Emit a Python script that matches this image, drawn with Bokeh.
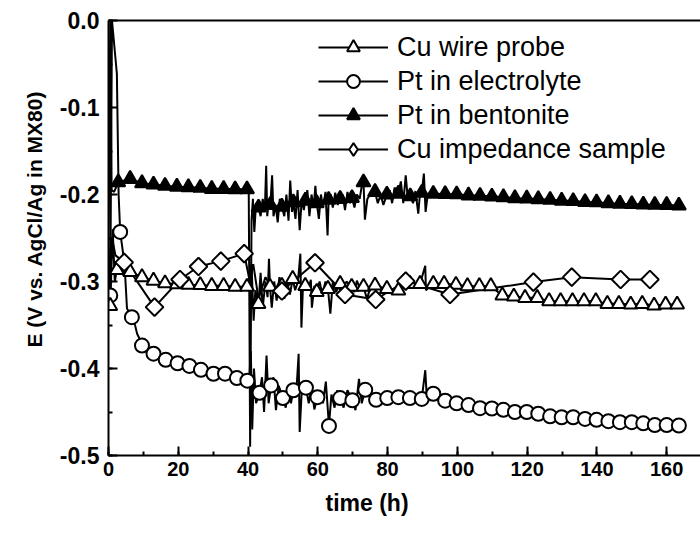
import math
from bokeh.plotting import figure
from bokeh.models import (Range1d, SingleIntervalTicker, FixedTicker, LinearAxis,
                          NumeralTickFormatter, Legend, LegendItem, Title)
from bokeh.embed import file_html
from bokeh.resources import INLINE

# ---------------- data ----------------
# Cu wire probe (open triangles)
cu_t = [0.5, 2.4, 6.2, 9.6, 12.9, 16.2, 19.6, 22.9, 26.3, 29.6, 33.0, 36.3, 39.7,
        43.0, 46.3, 49.7, 52.8, 56.4, 59.7, 62.9, 66.4, 69.7, 73.1, 76.4, 79.8,
        83.1, 86.4, 89.3, 93.1, 96.2, 99.6, 102.9, 106.3, 109.6, 112.9, 116.2,
        119.4, 122.9, 126.3, 129.6, 133.0, 136.3, 139.7, 143.0, 146.3, 149.7,
        153.0, 156.4, 159.7, 163.0]
cu_e = [-0.328, -0.2866, -0.289, -0.295, -0.299, -0.302, -0.303, -0.3038, -0.304,
        -0.305, -0.305, -0.306, -0.306, -0.3257, -0.306, -0.305, -0.297, -0.305,
        -0.312, -0.3085, -0.3027, -0.306, -0.306, -0.3046, -0.3085, -0.3103,
        -0.3027, -0.3027, -0.3027, -0.3027, -0.3038, -0.3054, -0.3054, -0.3054,
        -0.316, -0.3172, -0.3188, -0.3188, -0.3226, -0.3226, -0.3226, -0.3226,
        -0.3226, -0.3257, -0.3257, -0.3264, -0.3257, -0.3276, -0.3264, -0.3264]
cu_noise_t = [0.0, 1.2, 1.8, 40.3, 41.0, 41.6, 42.1, 43.6, 44.2, 45.0, 45.6, 46.0,
              46.8, 47.5, 48.2, 49.0, 50.4, 51.2, 52.0, 53.5, 54.3, 55.0, 55.3,
              55.8, 57.2, 58.0, 58.3, 59.0, 60.5, 61.3, 62.2, 63.6, 64.3, 65.2,
              67.2, 68.2, 70.5, 71.2, 72.2, 74.1, 75.2, 90.8, 91.0]
cu_noise_e = [-0.26, -0.24, -0.3, -0.306, -0.28, -0.345, -0.31, -0.29, -0.33, -0.3,
              -0.318, -0.274, -0.33, -0.3, -0.322, -0.295, -0.32, -0.3, -0.315,
              -0.31, -0.3, -0.268, -0.353, -0.3, -0.31, -0.298, -0.33, -0.305,
              -0.3, -0.315, -0.3, -0.337, -0.3, -0.312, -0.31, -0.3, -0.312,
              -0.299, -0.31, -0.32, -0.305, -0.282, -0.31]

# Pt in electrolyte (open circles)
el_t = [0.5, 3.35, 6.7, 9.6, 12.9, 16.4, 19.8, 23.2, 26.5, 30.1, 33.4, 36.8, 39.8,
        43.3, 46.6, 50.0, 53.0, 56.6, 59.9, 63.2, 66.4, 69.9, 73.6, 76.7, 79.9,
        83.1, 86.4, 89.8, 93.1, 96.5, 99.8, 103.2, 106.5, 109.9, 113.2, 116.5,
        119.9, 123.2, 126.6, 129.9, 133.2, 136.6, 139.9, 143.3, 146.6, 150.0,
        153.3, 156.6, 160.0, 163.5]
el_e = [-0.316, -0.243, -0.341, -0.3736, -0.383, -0.390, -0.394, -0.397, -0.4015,
        -0.406, -0.406, -0.411, -0.414, -0.428, -0.4195, -0.434, -0.425, -0.422,
        -0.433, -0.466, -0.434, -0.4365, -0.4245, -0.436, -0.434, -0.433, -0.434,
        -0.435, -0.429, -0.437, -0.44, -0.442, -0.4456, -0.446, -0.4475, -0.450,
        -0.450, -0.452, -0.455, -0.456, -0.456, -0.458, -0.459, -0.4605, -0.4617,
        -0.4617, -0.463, -0.465, -0.465, -0.4655]
el_noise_t = [1.0, 2.4, 2.9, 4.6, 5.3, 7.6, 8.2, 8.8, 40.3, 40.8, 41.2, 41.7, 42.3,
              44.0, 44.6, 45.3, 45.9, 47.3, 48.0, 48.8, 50.8, 51.6, 52.3, 53.8,
              54.5, 54.8, 55.4, 57.4, 58.2, 59.0, 60.7, 61.5, 62.3, 63.9, 64.8,
              65.6, 67.4, 68.5, 70.8, 71.8, 72.6, 90.8, 91.2]
el_noise_e = [0.0, -0.061, -0.2, -0.28, -0.331, -0.35, -0.36, -0.365, -0.415, -0.38,
              -0.47, -0.4, -0.44, -0.41, -0.45, -0.385, -0.44, -0.41, -0.448, -0.42,
              -0.445, -0.42, -0.44, -0.43, -0.383, -0.473, -0.425, -0.44, -0.42,
              -0.447, -0.425, -0.44, -0.415, -0.43, -0.445, -0.425, -0.445, -0.425,
              -0.448, -0.412, -0.44, -0.402, -0.43]

# Pt in bentonite (filled triangles)
bt_t = [2.8, 6.2, 9.6, 12.9, 16.2, 19.6, 22.9, 26.3, 29.6, 33.0, 36.3, 39.7, 43.0,
        46.4, 49.7, 53.0, 56.4, 59.7, 63.1, 66.4, 69.8, 73.1, 76.4, 79.8, 83.1,
        86.5, 89.8, 93.1, 96.5, 99.8, 103.2, 106.5, 109.9, 113.2, 116.5, 119.9,
        123.2, 126.6, 129.9, 133.2, 136.6, 139.9, 143.3, 146.6, 150.0, 153.3,
        156.6, 160.0, 163.5]
bt_e = [-0.186, -0.182, -0.187, -0.1885, -0.19, -0.191, -0.1916, -0.1923, -0.1935,
        -0.1935, -0.194, -0.194, -0.215, -0.212, -0.214, -0.209, -0.207, -0.21,
        -0.206, -0.205, -0.204, -0.186, -0.197, -0.2, -0.199, -0.202, -0.198,
        -0.1992, -0.1995, -0.1997, -0.201, -0.2015, -0.2023, -0.203, -0.2042,
        -0.2045, -0.2053, -0.206, -0.207, -0.2075, -0.2087, -0.209, -0.21,
        -0.2105, -0.211, -0.2115, -0.2118, -0.212, -0.2126]
bt_noise_t = [0.0, 0.5, 0.9, 1.6, 40.2, 40.6, 41.0, 41.4, 41.8, 42.3, 43.6, 44.2,
              44.8, 45.2, 45.5, 46.0, 46.9, 47.3, 47.9, 48.5, 49.1, 50.4, 51.0,
              51.6, 52.1, 52.6, 53.6, 54.2, 54.8, 55.4, 56.0, 57.0, 57.6, 58.2,
              58.8, 59.3, 60.3, 60.9, 61.5, 62.2, 62.8, 63.7, 64.3, 65.0, 65.7,
              67.1, 67.8, 68.5, 69.2, 70.5, 71.2, 72.0, 72.6, 73.5, 74.2, 75.0,
              77.2, 78.0, 78.8, 80.6, 81.3, 82.0, 83.8, 84.5, 85.2, 85.8, 87.3,
              88.0, 88.8, 89.3, 90.4, 90.9, 91.5]
bt_noise_e = [-0.27, 0.0, -0.195, -0.197, -0.195, -0.49, -0.23, -0.205, -0.243,
              -0.21, -0.225, -0.205, -0.22, -0.167, -0.225, -0.205, -0.178, -0.225,
              -0.212, -0.232, -0.205, -0.225, -0.2, -0.23, -0.184, -0.22, -0.228,
              -0.195, -0.241, -0.205, -0.218, -0.195, -0.225, -0.2, -0.215, -0.19,
              -0.228, -0.2, -0.215, -0.197, -0.247, -0.2, -0.215, -0.198, -0.212,
              -0.2, -0.218, -0.197, -0.21, -0.215, -0.2, -0.205, -0.19, -0.229,
              -0.205, -0.2, -0.21, -0.2, -0.212, -0.195, -0.21, -0.192, -0.185,
              -0.21, -0.178, -0.205, -0.21, -0.196, -0.222, -0.198, -0.176, -0.22,
              -0.2]

# Cu impedance sample (open diamonds)
im_t = [4.5, 13.2, 20.5, 25.8, 32.2, 38.9, 49.7, 59.2, 67.8, 76.6, 85.2, 97.9,
        121.8, 132.8, 146.8, 155.2]
im_e = [-0.278, -0.3295, -0.2977, -0.2828, -0.2766, -0.268, -0.311, -0.2785,
        -0.315, -0.3207, -0.2996, -0.315, -0.3007, -0.295, -0.2977, -0.2977]
im_noise_t = [0.2, 1.0, 2.0, 40.5, 41.5, 43.0, 45.0, 47.0]
im_noise_e = [-0.29, -0.25, -0.27, -0.3, -0.28, -0.32, -0.295, -0.31]

x_ticks_step = 20
y_ticks_step = 0.1
names = ["Cu wire probe", "Pt in electrolyte", "Pt in bentonite", "Cu impedance sample"]
x_title = "time (h)"
y_title = "E (V vs. AgCl/Ag in MX80)"


def merged(t1, e1, t2, e2):
    pts = sorted(zip(list(t1) + list(t2), list(e1) + list(e2)))
    return [q[0] for q in pts], [q[1] for q in pts]


FONT = "Liberation Sans"

p = figure(width=700, height=535, x_range=Range1d(0, 169.7), y_range=Range1d(-0.5, 0.0),
           output_backend="svg", toolbar_location=None,
           min_border_left=108, min_border_right=0, min_border_top=20, min_border_bottom=80)
p.outline_line_color = None
p.xgrid.visible = False
p.ygrid.visible = False
p.background_fill_color = "white"
p.border_fill_color = "white"

# axes
for ax in (p.xaxis[0], p.yaxis[0]):
    ax.axis_line_width = 2
    ax.axis_line_color = "black"
    ax.major_tick_in = 9
    ax.major_tick_out = 0
    ax.minor_tick_in = 4
    ax.minor_tick_out = 0
    ax.major_tick_line_width = 2
    ax.minor_tick_line_width = 2
    ax.major_label_text_font = FONT
    ax.major_label_text_font_style = "bold"
    ax.major_label_text_color = "black"

p.xaxis[0].major_label_text_font_size = "20px"
p.yaxis[0].major_label_text_font_size = "23px"
p.xaxis[0].ticker = SingleIntervalTicker(interval=x_ticks_step, num_minor_ticks=2)
p.yaxis[0].ticker = SingleIntervalTicker(interval=y_ticks_step, num_minor_ticks=2)
p.yaxis[0].formatter = NumeralTickFormatter(format="0.0")
p.xaxis[0].major_label_standoff = 6
p.yaxis[0].major_label_standoff = 9

top = LinearAxis(ticker=FixedTicker(ticks=[]), major_label_text_font_size="0px",
                 axis_line_width=2, axis_line_color="black",
                 major_tick_line_color=None, minor_tick_line_color=None)
p.add_layout(top, "above")

# series lines
cl_t, cl_e = merged(cu_t, cu_e, cu_noise_t, cu_noise_e)
el_lt, el_le = merged(el_t, el_e, el_noise_t, el_noise_e)
bt_lt, bt_le = merged(bt_t, bt_e, bt_noise_t, bt_noise_e)
im_lt, im_le = merged(im_t, im_e, im_noise_t, im_noise_e)

lw = 2
r_el_l = p.line(el_lt, el_le, line_color="black", line_width=lw)
r_cu_l = p.line(cl_t, cl_e, line_color="black", line_width=lw)
r_im_l = p.line(im_lt, im_le, line_color="black", line_width=lw)
r_bt_l = p.line(bt_lt, bt_le, line_color="black", line_width=lw)

r_el_m = p.scatter(el_t, el_e, marker="circle", size=14, fill_color="white",
                   line_color="black", line_width=2)
r_cu_m = p.scatter(cu_t, cu_e, marker="triangle", size=14, fill_color="white",
                   line_color="black", line_width=2)
r_im_m = p.scatter(im_t, im_e, marker="square", angle=math.pi / 4, size=12.5,
                   fill_color="white", line_color="black", line_width=2)
r_bt_m = p.scatter(bt_t, bt_e, marker="triangle", size=14, fill_color="black",
                   line_color="black", line_width=2)
# legend-only symbol for the diamond series (nothing drawn in the frame)
r_im_leg = p.scatter([float("nan")], [float("nan")], marker="diamond", size=19,
                     fill_color="white", line_color="black", line_width=2)

legend = Legend(items=[
    LegendItem(label=names[0], renderers=[r_cu_l, r_cu_m]),
    LegendItem(label=names[1], renderers=[r_el_l, r_el_m]),
    LegendItem(label=names[2], renderers=[r_bt_l, r_bt_m]),
    LegendItem(label=names[3], renderers=[r_im_l, r_im_leg]),
], location=(210, 290))
legend.glyph_width = 70
legend.glyph_height = 32
legend.label_height = 32
legend.spacing = 2
legend.padding = 0
legend.margin = 0
legend.label_standoff = 9
legend.border_line_color = None
legend.background_fill_alpha = 0
legend.label_text_font = FONT
legend.label_text_font_size = "27px"
legend.label_text_color = "black"
p.add_layout(legend, "center")

xt = Title(text=x_title, align="left", offset=217, standoff=18,
           text_font=FONT, text_font_style="bold", text_font_size="23px",
           text_color="black")
yt = Title(text=y_title, align="left", offset=108, standoff=22,
           text_font=FONT, text_font_style="bold", text_font_size="21px",
           text_color="black")
p.add_layout(xt, "below")
p.add_layout(yt, "left")

open("out.html", "w").write(file_html(p, INLINE))
